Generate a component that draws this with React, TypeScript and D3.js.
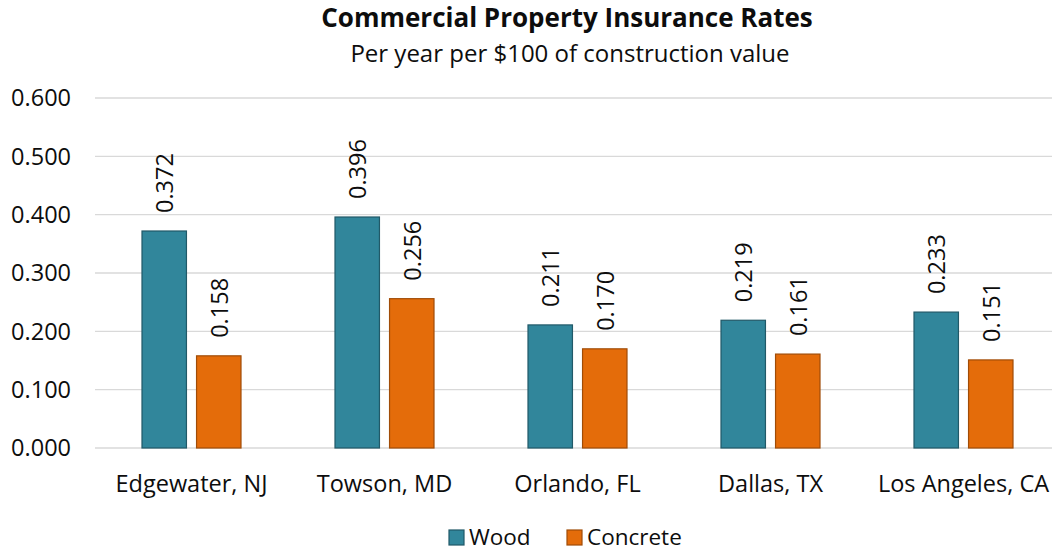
import { useEffect, useRef } from 'react'
import * as d3 from 'd3'

const cities = ['Edgewater, NJ', 'Towson, MD', 'Orlando, FL', 'Dallas, TX', 'Los Angeles, CA']
const seriesNames = ['Wood', 'Concrete']
const wood = [0.372, 0.396, 0.211, 0.219, 0.233]
const concrete = [0.158, 0.256, 0.17, 0.161, 0.151]
const yTicks = [0, 0.1, 0.2, 0.3, 0.4, 0.5, 0.6]

const W = 1052
const H = 552
const FONT = "'Open Sans', 'Noto Sans', sans-serif"
const fills = ['#31869B', '#E46C0A']
const strokes = ['#215968', '#A04C07']
const FS = 23.5

export default function App() {
  const svgRef = useRef<SVGSVGElement>(null)

  useEffect(() => {
    if (!svgRef.current) return
    const svg = d3.select(svgRef.current)
    svg.selectAll('*').remove()

    const x = d3.scaleBand<string>().domain(cities).range([95, 1060]).paddingInner(0).paddingOuter(0)
    const inner = d3.scaleBand<string>().domain(seriesNames).range([47, 146]).paddingInner(0.185)
    const y = d3.scaleLinear().domain([0, 0.6]).range([448, 98])

    svg.append('rect').attr('width', W).attr('height', H).attr('fill', '#fff')

    // title
    svg.append('text').attr('x', 567).attr('y', 27).attr('text-anchor', 'middle')
      .attr('font-family', FONT).attr('font-weight', 700).attr('font-size', 26).attr('fill', '#0d0d0d')
      .text('Commercial Property Insurance Rates')
    svg.append('text').attr('x', 570).attr('y', 62).attr('text-anchor', 'middle')
      .attr('font-family', FONT).attr('font-size', 24).attr('fill', '#0d0d0d')
      .text('Per year per $100 of construction value')

    // grid + y labels
    const g = svg.append('g')
    yTicks.forEach((t) => {
      g.append('line').attr('x1', 95).attr('x2', W).attr('y1', y(t)).attr('y2', y(t))
        .attr('stroke', '#d9d9d9').attr('stroke-width', 1.3)
      g.append('text').attr('x', 71).attr('y', y(t)).attr('dy', '0.35em').attr('text-anchor', 'end')
        .attr('font-family', FONT).attr('font-size', FS).attr('fill', '#0d0d0d')
        .text(d3.format('.3f')(t))
    })

    const series = [wood, concrete]
    series.forEach((vals, si) => {
      const name = seriesNames[si]
      vals.forEach((v, ci) => {
        const bx = (x(cities[ci]) ?? 0) + (inner(name) ?? 0)
        const bw = inner.bandwidth()
        svg.append('rect').attr('x', bx).attr('y', y(v)).attr('width', bw).attr('height', y(0) - y(v))
          .attr('fill', fills[si]).attr('stroke', strokes[si]).attr('stroke-width', 1.2)
        const cx = bx + bw / 2
        const cy = y(v) - 18
        svg.append('text').attr('transform', `translate(${cx + 1},${cy}) rotate(-90)`)
          .attr('dy', '0.35em').attr('text-anchor', 'start')
          .attr('font-family', FONT).attr('font-size', FS).attr('fill', '#0d0d0d')
          .text(d3.format('.3f')(v))
      })
    })

    // x labels
    cities.forEach((c) => {
      svg.append('text').attr('x', (x(c) ?? 0) + x.bandwidth() / 2).attr('y', 492).attr('text-anchor', 'middle')
        .attr('font-family', FONT).attr('font-size', FS).attr('fill', '#0d0d0d').text(c)
    })

    // legend
    const legX = [449, 567]
    seriesNames.forEach((n, i) => {
      svg.append('rect').attr('x', legX[i]).attr('y', 530).attr('width', 15).attr('height', 15)
        .attr('fill', fills[i]).attr('stroke', strokes[i]).attr('stroke-width', 1.2)
      svg.append('text').attr('x', legX[i] + 20).attr('y', 545)
        .attr('font-family', FONT).attr('font-size', 22.5).attr('fill', '#0d0d0d').text(n)
    })
  }, [])

  return (
    <svg ref={svgRef} width={W} height={H}
      style={{ position: 'absolute', left: 0, top: 0, display: 'block' }} />
  )
}
